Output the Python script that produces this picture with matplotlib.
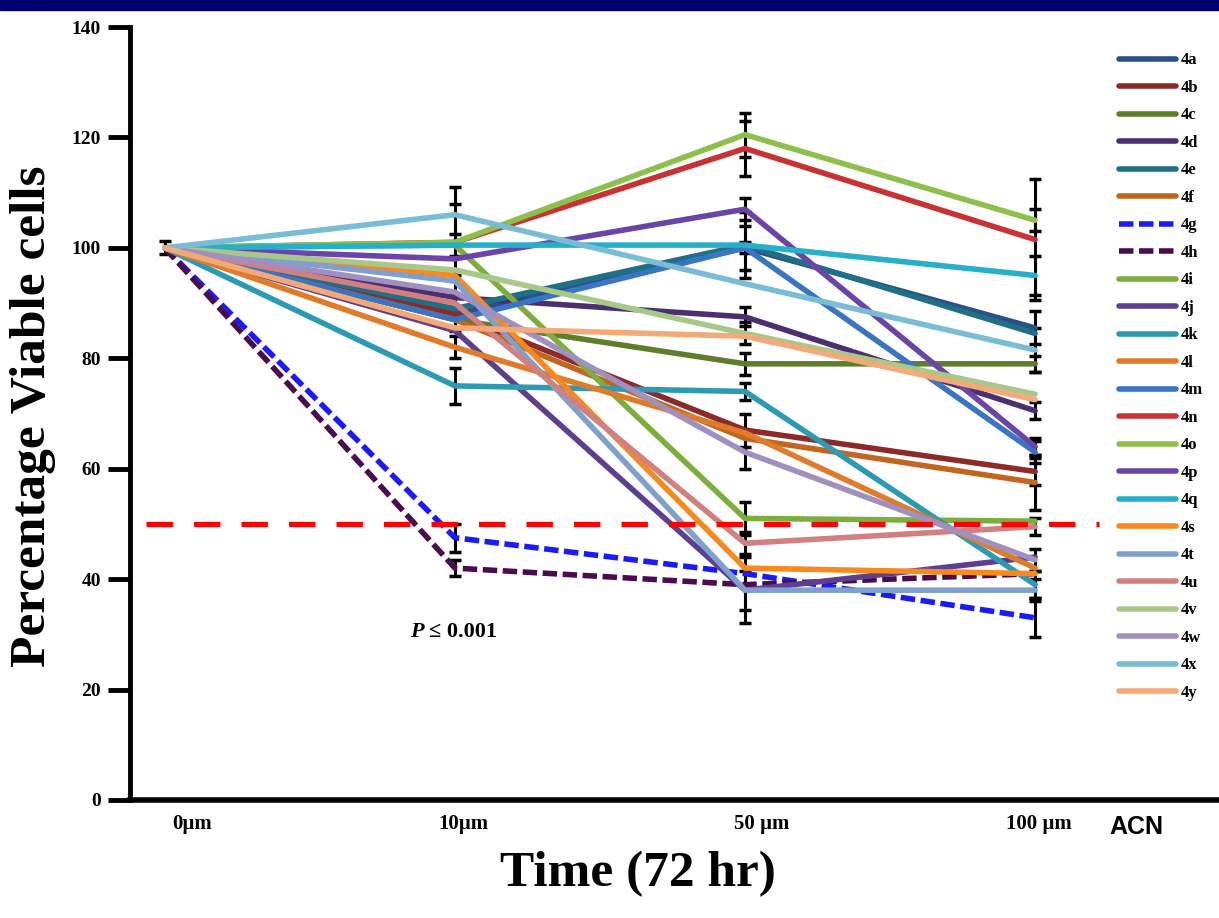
import numpy as np
import matplotlib.pyplot as plt
from matplotlib.patches import Rectangle

# doses (x categories)
doses = ['0µm', '10µm', '50 µm', '100 µm']

# compound names
names = ['4a', '4b', '4c', '4d', '4e', '4f', '4g', '4h', '4i', '4j', '4k', '4l',
         '4m', '4n', '4o', '4p', '4q', '4s', '4t', '4u', '4v', '4w', '4x', '4y']

# percentage viable cells at 0, 10, 50, 100 µm
v4a = [100, 88, 100, 85.5]
v4b = [100, 88, 67, 59.5]
v4c = [100, 87, 79, 79]
v4d = [100, 91, 87.5, 70.5]
v4e = [100, 89, 100.5, 84.5]
v4f = [100, 87, 65.5, 57.5]
v4g = [100, 47.5, 41, 33]
v4h = [100, 42, 39, 41]
v4i = [100, 100.5, 51, 50.5]
v4j = [100, 85, 38, 44]
v4k = [100, 75, 74, 39]
v4l = [100, 82, 66.5, 42]
v4m = [100, 87, 100, 63]
v4n = [100, 101, 118, 101.5]
v4o = [100, 101, 120.5, 105]
v4p = [100, 98, 107, 64]
v4q = [100, 100.5, 100.5, 95]
v4s = [100, 95, 42, 41]
v4t = [100, 94, 38, 38]
v4u = [100, 90, 46.5, 49.5]
v4v = [100, 96, 84.5, 73.5]
v4w = [100, 92, 63, 43.5]
v4x = [100, 106, 93.5, 81.5]
v4y = [100, 85.5, 84, 72.5]

# error (SD) at each dose, 0 = not shown
e4a = [1.2, 0, 4, 3]
e4b = [0, 0, 3, 2.5]
e4c = [0, 0, 2, 1.5]
e4d = [0, 0, 1.7, 1.5]
e4e = [0, 0, 6, 0]
e4f = [0, 0, 0, 5]
e4g = [0, 2.5, 0, 3.5]
e4h = [0, 1.5, 0, 0]
e4i = [0, 0, 3, 0]
e4j = [0, 0, 3.5, 0]
e4k = [0, 3.3, 1.5, 2.5]
e4l = [0, 2, 0, 0]
e4m = [0, 0, 1, 2]
e4n = [0, 0, 5, 11]
e4o = [0, 7, 4, 2]
e4p = [0, 0, 2, 1.5]
e4q = [0, 2, 0, 3.5]
e4s = [0, 0, 0, 0]
e4t = [0, 0, 6, 2]
e4u = [0, 5, 2, 1.5]
e4v = [0, 4.5, 2, 0]
e4w = [0, 0, 3, 2]
e4x = [0, 5, 0, 4]
e4y = [0, 0, 0, 0]

values = [v4a, v4b, v4c, v4d, v4e, v4f, v4g, v4h, v4i, v4j, v4k, v4l,
          v4m, v4n, v4o, v4p, v4q, v4s, v4t, v4u, v4v, v4w, v4x, v4y]
errors = [e4a, e4b, e4c, e4d, e4e, e4f, e4g, e4h, e4i, e4j, e4k, e4l,
          e4m, e4n, e4o, e4p, e4q, e4s, e4t, e4u, e4v, e4w, e4x, e4y]

colors = ['#2a5185', '#8c2a2a', '#5f7d2b', '#4b3070', '#1f6f86', '#c2661f',
          '#1a1aff', '#4b0b4f', '#7cae3c', '#5d3f8f', '#2a9bb3', '#e07b2a',
          '#3a75c4', '#c83232', '#8dc04a', '#6a44a8', '#26b0c8', '#f7891e',
          '#7f9fcf', '#d08080', '#a8c88a', '#a090c0', '#78bcd6', '#f4aa78']
dashed = ['4g', '4h']

serif = ['Liberation Serif', 'DejaVu Serif']

fig = plt.figure(figsize=(12.19, 9.18), dpi=100)
fig.patches.append(Rectangle((0, 1 - 10 / 918), 1, 10 / 918, transform=fig.transFigure,
                             color='#00006e', zorder=0))
ax = fig.add_axes([130 / 1219, 1 - 800 / 918, 1 - 130 / 1219, (800 - 27) / 918])

x = np.arange(len(doses))

# error bars under the lines
for vals, errs in zip(values, errors):
    vals = np.array(vals)
    errs = np.array(errs)
    m = errs > 0
    if m.any():
        ax.errorbar(x[m], vals[m], yerr=errs[m], fmt='none', ecolor='black',
                    elinewidth=2.2, capsize=4, capthick=2.5, zorder=1)

for name, vals, c in zip(names, values, colors):
    if name in dashed:
        ax.plot(x, vals, color=c, lw=4.0, linestyle=(0, (2.6, 1.0)), label=name, zorder=2)
    else:
        ax.plot(x, vals, color=c, lw=4.0, label=name, zorder=2, solid_capstyle='round')

# 50% reference line
ax.axhline(50, xmin=0.015, xmax=0.89, color='#ff0000', lw=3.8,
           linestyle=(0, (5, 4)), zorder=3)

ax.set_xlim(-0.12, 3.634)
ax.set_ylim(0, 140)
ax.set_yticks(np.arange(0, 141, 20))
# labels sit a little right of their points in the reference
ax.set_xticks(x + np.array([0.093, 0.031, 0.059, 0.014]))
ax.set_xticklabels(doses)
for lab in ax.get_xticklabels() + ax.get_yticklabels():
    lab.set_family(serif)
    lab.set_fontweight('bold')
for lab in ax.get_xticklabels():
    lab.set_fontsize(15)
for lab in ax.get_yticklabels():
    lab.set_fontsize(14)
ax.tick_params(axis='x', length=0, pad=10)
ax.tick_params(axis='y', direction='out', length=16, width=3.5, pad=5)

ax.spines['top'].set_visible(False)
ax.spines['right'].set_visible(False)
ax.spines['left'].set_linewidth(3.5)
ax.spines['bottom'].set_linewidth(4)

ax.set_ylabel('Percentage Viable cells', family=serif, fontweight='bold', fontsize=37)
ax.yaxis.set_label_coords(-0.0675, 0.497)
ax.set_xlabel('Time (72 hr)', family=serif, fontweight='bold', fontsize=37)
ax.xaxis.set_label_coords(0.466, -0.066)

ax.text(3.255, -2.7, 'ACN', family=['Liberation Sans', 'DejaVu Sans'], fontweight='bold',
        fontsize=18, ha='left', va='top')

ax.text(0.845, 30.4, 'P', family=serif, fontweight='bold', style='italic', fontsize=16,
        ha='left', va='center')
ax.text(0.912, 30.4, '≤ 0.001', family=serif, fontweight='bold', fontsize=16,
        ha='left', va='center')

leg = ax.legend(loc='upper left', bbox_to_anchor=(1111 / 1219, 1 - 44 / 918),
                bbox_transform=fig.transFigure, frameon=False,
                prop={'family': serif, 'weight': 'bold', 'size': 12},
                handlelength=3.4, handletextpad=0.3, labelspacing=0.69, borderpad=0)

fig.savefig('out.png', dpi=100)
